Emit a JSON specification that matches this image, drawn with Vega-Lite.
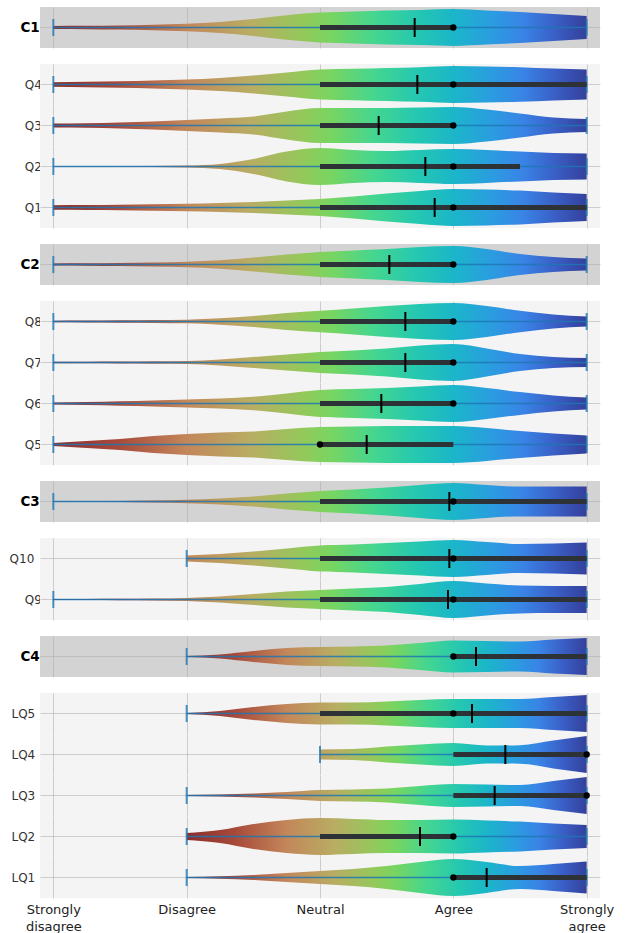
{
"$schema": "https://vega.github.io/schema/vega-lite/v6.json",
"padding": {"left": 9, "top": 7, "right": 0, "bottom": 0},
"background": "white",
"spacing": 16,
"config": {"view": {"stroke": null}, "font": "DejaVu Sans", "axis": {"gridColor": "#b0b0b0", "gridOpacity": 0.6},
 "header": {"labelAngle": 0, "labelAlign": "right", "labelOrient": "left", "labelPadding": -19, "labelFont": "DejaVu Sans", "labelBaseline": "middle"},
 "tick": {"orient": "vertical", "thickness": 2, "opacity": 1},
 "circle": {"color": "#000000", "size": 40, "opacity": 1},
 "area": {"orient": "vertical", "interpolate": "monotone", "opacity": 1}},
"datasets": {"all": [
{"q":"C1","x":1,"d":0.075},{"q":"C1","x":1.25,"d":0.083},{"q":"C1","x":1.5,"d":0.105},{"q":"C1","x":1.75,"d":0.14},{"q":"C1","x":2,"d":0.188},{"q":"C1","x":2.25,"d":0.275},{"q":"C1","x":2.5,"d":0.425},{"q":"C1","x":2.75,"d":0.62},{"q":"C1","x":3,"d":0.75},{"q":"C1","x":3.25,"d":0.8},{"q":"C1","x":3.5,"d":0.85},{"q":"C1","x":3.75,"d":0.88},{"q":"C1","x":4,"d":0.925},{"q":"C1","x":4.25,"d":0.86},{"q":"C1","x":4.5,"d":0.78},{"q":"C1","x":4.75,"d":0.68},{"q":"C1","x":5,"d":0.58},
{"q":"Q4","x":1,"d":0.118},{"q":"Q4","x":1.25,"d":0.138},{"q":"Q4","x":1.5,"d":0.163},{"q":"Q4","x":1.75,"d":0.2},{"q":"Q4","x":2,"d":0.25},{"q":"Q4","x":2.25,"d":0.33},{"q":"Q4","x":2.5,"d":0.45},{"q":"Q4","x":2.75,"d":0.6},{"q":"Q4","x":3,"d":0.75},{"q":"Q4","x":3.25,"d":0.79},{"q":"Q4","x":3.5,"d":0.83},{"q":"Q4","x":3.75,"d":0.87},{"q":"Q4","x":4,"d":0.925},{"q":"Q4","x":4.25,"d":0.9},{"q":"Q4","x":4.5,"d":0.87},{"q":"Q4","x":4.75,"d":0.8},{"q":"Q4","x":5,"d":0.75},
{"q":"Q3","x":1,"d":0.1},{"q":"Q3","x":1.25,"d":0.113},{"q":"Q3","x":1.5,"d":0.15},{"q":"Q3","x":1.75,"d":0.2},{"q":"Q3","x":2,"d":0.275},{"q":"Q3","x":2.25,"d":0.35},{"q":"Q3","x":2.5,"d":0.45},{"q":"Q3","x":2.75,"d":0.7},{"q":"Q3","x":3,"d":0.875},{"q":"Q3","x":3.25,"d":0.875},{"q":"Q3","x":3.5,"d":0.875},{"q":"Q3","x":3.75,"d":0.9},{"q":"Q3","x":4,"d":0.925},{"q":"Q3","x":4.25,"d":0.8},{"q":"Q3","x":4.5,"d":0.6},{"q":"Q3","x":4.75,"d":0.4},{"q":"Q3","x":5,"d":0.325},
{"q":"Q2","x":1,"d":0.013},{"q":"Q2","x":1.25,"d":0.013},{"q":"Q2","x":1.5,"d":0.018},{"q":"Q2","x":1.75,"d":0.025},{"q":"Q2","x":2,"d":0.045},{"q":"Q2","x":2.25,"d":0.125},{"q":"Q2","x":2.5,"d":0.375},{"q":"Q2","x":2.75,"d":0.75},{"q":"Q2","x":3,"d":0.925},{"q":"Q2","x":3.25,"d":0.825},{"q":"Q2","x":3.5,"d":0.775},{"q":"Q2","x":3.75,"d":0.825},{"q":"Q2","x":4,"d":0.875},{"q":"Q2","x":4.25,"d":0.825},{"q":"Q2","x":4.5,"d":0.75},{"q":"Q2","x":4.75,"d":0.675},{"q":"Q2","x":5,"d":0.65},
{"q":"Q1","x":1,"d":0.113},{"q":"Q1","x":1.25,"d":0.125},{"q":"Q1","x":1.5,"d":0.138},{"q":"Q1","x":1.75,"d":0.163},{"q":"Q1","x":2,"d":0.188},{"q":"Q1","x":2.25,"d":0.225},{"q":"Q1","x":2.5,"d":0.275},{"q":"Q1","x":2.75,"d":0.35},{"q":"Q1","x":3,"d":0.425},{"q":"Q1","x":3.25,"d":0.55},{"q":"Q1","x":3.5,"d":0.7},{"q":"Q1","x":3.75,"d":0.825},{"q":"Q1","x":4,"d":0.925},{"q":"Q1","x":4.25,"d":0.9},{"q":"Q1","x":4.5,"d":0.85},{"q":"Q1","x":4.75,"d":0.75},{"q":"Q1","x":5,"d":0.675},
{"q":"C2","x":1,"d":0.05},{"q":"C2","x":1.25,"d":0.058},{"q":"C2","x":1.5,"d":0.075},{"q":"C2","x":1.75,"d":0.1},{"q":"C2","x":2,"d":0.138},{"q":"C2","x":2.25,"d":0.213},{"q":"C2","x":2.5,"d":0.35},{"q":"C2","x":2.75,"d":0.5},{"q":"C2","x":3,"d":0.625},{"q":"C2","x":3.25,"d":0.7},{"q":"C2","x":3.5,"d":0.775},{"q":"C2","x":3.75,"d":0.875},{"q":"C2","x":4,"d":0.925},{"q":"C2","x":4.25,"d":0.775},{"q":"C2","x":4.5,"d":0.525},{"q":"C2","x":4.75,"d":0.375},{"q":"C2","x":5,"d":0.3},
{"q":"Q8","x":1,"d":0.035},{"q":"Q8","x":1.25,"d":0.045},{"q":"Q8","x":1.5,"d":0.058},{"q":"Q8","x":1.75,"d":0.07},{"q":"Q8","x":2,"d":0.093},{"q":"Q8","x":2.25,"d":0.163},{"q":"Q8","x":2.5,"d":0.275},{"q":"Q8","x":2.75,"d":0.425},{"q":"Q8","x":3,"d":0.538},{"q":"Q8","x":3.25,"d":0.65},{"q":"Q8","x":3.5,"d":0.775},{"q":"Q8","x":3.75,"d":0.875},{"q":"Q8","x":4,"d":0.925},{"q":"Q8","x":4.25,"d":0.775},{"q":"Q8","x":4.5,"d":0.538},{"q":"Q8","x":4.75,"d":0.35},{"q":"Q8","x":5,"d":0.25},
{"q":"Q7","x":1,"d":0.038},{"q":"Q7","x":1.25,"d":0.043},{"q":"Q7","x":1.5,"d":0.05},{"q":"Q7","x":1.75,"d":0.063},{"q":"Q7","x":2,"d":0.075},{"q":"Q7","x":2.25,"d":0.15},{"q":"Q7","x":2.5,"d":0.275},{"q":"Q7","x":2.75,"d":0.4},{"q":"Q7","x":3,"d":0.525},{"q":"Q7","x":3.25,"d":0.6},{"q":"Q7","x":3.5,"d":0.7},{"q":"Q7","x":3.75,"d":0.85},{"q":"Q7","x":4,"d":0.925},{"q":"Q7","x":4.25,"d":0.7},{"q":"Q7","x":4.5,"d":0.425},{"q":"Q7","x":4.75,"d":0.275},{"q":"Q7","x":5,"d":0.225},
{"q":"Q6","x":1,"d":0.05},{"q":"Q6","x":1.25,"d":0.075},{"q":"Q6","x":1.5,"d":0.113},{"q":"Q6","x":1.75,"d":0.15},{"q":"Q6","x":2,"d":0.2},{"q":"Q6","x":2.25,"d":0.25},{"q":"Q6","x":2.5,"d":0.338},{"q":"Q6","x":2.75,"d":0.5},{"q":"Q6","x":3,"d":0.675},{"q":"Q6","x":3.25,"d":0.725},{"q":"Q6","x":3.5,"d":0.775},{"q":"Q6","x":3.75,"d":0.85},{"q":"Q6","x":4,"d":0.925},{"q":"Q6","x":4.25,"d":0.775},{"q":"Q6","x":4.5,"d":0.575},{"q":"Q6","x":4.75,"d":0.4},{"q":"Q6","x":5,"d":0.3},
{"q":"Q5","x":1,"d":0.075},{"q":"Q5","x":1.25,"d":0.175},{"q":"Q5","x":1.5,"d":0.275},{"q":"Q5","x":1.75,"d":0.425},{"q":"Q5","x":2,"d":0.525},{"q":"Q5","x":2.25,"d":0.6},{"q":"Q5","x":2.5,"d":0.65},{"q":"Q5","x":2.75,"d":0.775},{"q":"Q5","x":3,"d":0.875},{"q":"Q5","x":3.25,"d":0.9},{"q":"Q5","x":3.5,"d":0.925},{"q":"Q5","x":3.75,"d":0.925},{"q":"Q5","x":4,"d":0.925},{"q":"Q5","x":4.25,"d":0.825},{"q":"Q5","x":4.5,"d":0.675},{"q":"Q5","x":4.75,"d":0.55},{"q":"Q5","x":5,"d":0.45},
{"q":"C3","x":1,"d":0.013},{"q":"C3","x":1.25,"d":0.015},{"q":"C3","x":1.5,"d":0.025},{"q":"C3","x":1.75,"d":0.05},{"q":"C3","x":2,"d":0.088},{"q":"C3","x":2.25,"d":0.15},{"q":"C3","x":2.5,"d":0.25},{"q":"C3","x":2.75,"d":0.4},{"q":"C3","x":3,"d":0.525},{"q":"C3","x":3.25,"d":0.6},{"q":"C3","x":3.5,"d":0.7},{"q":"C3","x":3.75,"d":0.825},{"q":"C3","x":4,"d":0.925},{"q":"C3","x":4.25,"d":0.825},{"q":"C3","x":4.5,"d":0.75},{"q":"C3","x":4.75,"d":0.75},{"q":"C3","x":5,"d":0.75},
{"q":"Q10","x":2,"d":0.15},{"q":"Q10","x":2.25,"d":0.225},{"q":"Q10","x":2.5,"d":0.35},{"q":"Q10","x":2.75,"d":0.5},{"q":"Q10","x":3,"d":0.65},{"q":"Q10","x":3.25,"d":0.7},{"q":"Q10","x":3.5,"d":0.775},{"q":"Q10","x":3.75,"d":0.85},{"q":"Q10","x":4,"d":0.925},{"q":"Q10","x":4.25,"d":0.825},{"q":"Q10","x":4.5,"d":0.725},{"q":"Q10","x":4.75,"d":0.75},{"q":"Q10","x":5,"d":0.8},
{"q":"Q9","x":1,"d":0.025},{"q":"Q9","x":1.25,"d":0.025},{"q":"Q9","x":1.5,"d":0.033},{"q":"Q9","x":1.75,"d":0.045},{"q":"Q9","x":2,"d":0.075},{"q":"Q9","x":2.25,"d":0.15},{"q":"Q9","x":2.5,"d":0.275},{"q":"Q9","x":2.75,"d":0.4},{"q":"Q9","x":3,"d":0.475},{"q":"Q9","x":3.25,"d":0.55},{"q":"Q9","x":3.5,"d":0.625},{"q":"Q9","x":3.75,"d":0.775},{"q":"Q9","x":4,"d":0.925},{"q":"Q9","x":4.25,"d":0.8},{"q":"Q9","x":4.5,"d":0.7},{"q":"Q9","x":4.75,"d":0.675},{"q":"Q9","x":5,"d":0.675},
{"q":"C4","x":2,"d":0.025},{"q":"C4","x":2.25,"d":0.1},{"q":"C4","x":2.5,"d":0.275},{"q":"C4","x":2.75,"d":0.425},{"q":"C4","x":3,"d":0.475},{"q":"C4","x":3.25,"d":0.5},{"q":"C4","x":3.5,"d":0.55},{"q":"C4","x":3.75,"d":0.675},{"q":"C4","x":4,"d":0.8},{"q":"C4","x":4.25,"d":0.775},{"q":"C4","x":4.5,"d":0.75},{"q":"C4","x":4.75,"d":0.85},{"q":"C4","x":5,"d":0.925},
{"q":"LQ5","x":2,"d":0.025},{"q":"LQ5","x":2.25,"d":0.125},{"q":"LQ5","x":2.5,"d":0.325},{"q":"LQ5","x":2.75,"d":0.475},{"q":"LQ5","x":3,"d":0.55},{"q":"LQ5","x":3.25,"d":0.55},{"q":"LQ5","x":3.5,"d":0.6},{"q":"LQ5","x":3.75,"d":0.675},{"q":"LQ5","x":4,"d":0.725},{"q":"LQ5","x":4.25,"d":0.725},{"q":"LQ5","x":4.5,"d":0.725},{"q":"LQ5","x":4.75,"d":0.825},{"q":"LQ5","x":5,"d":0.925},
{"q":"LQ4","x":3,"d":0.25},{"q":"LQ4","x":3.25,"d":0.275},{"q":"LQ4","x":3.5,"d":0.4},{"q":"LQ4","x":3.75,"d":0.5},{"q":"LQ4","x":4,"d":0.575},{"q":"LQ4","x":4.25,"d":0.45},{"q":"LQ4","x":4.5,"d":0.47},{"q":"LQ4","x":4.75,"d":0.7},{"q":"LQ4","x":5,"d":0.925},
{"q":"LQ3","x":2,"d":0.025},{"q":"LQ3","x":2.25,"d":0.05},{"q":"LQ3","x":2.5,"d":0.1},{"q":"LQ3","x":2.75,"d":0.175},{"q":"LQ3","x":3,"d":0.275},{"q":"LQ3","x":3.25,"d":0.3},{"q":"LQ3","x":3.5,"d":0.35},{"q":"LQ3","x":3.75,"d":0.475},{"q":"LQ3","x":4,"d":0.575},{"q":"LQ3","x":4.25,"d":0.55},{"q":"LQ3","x":4.5,"d":0.525},{"q":"LQ3","x":4.75,"d":0.725},{"q":"LQ3","x":5,"d":0.925},
{"q":"LQ2","x":2,"d":0.175},{"q":"LQ2","x":2.25,"d":0.325},{"q":"LQ2","x":2.5,"d":0.625},{"q":"LQ2","x":2.75,"d":0.825},{"q":"LQ2","x":3,"d":0.925},{"q":"LQ2","x":3.25,"d":0.875},{"q":"LQ2","x":3.5,"d":0.825},{"q":"LQ2","x":3.75,"d":0.825},{"q":"LQ2","x":4,"d":0.85},{"q":"LQ2","x":4.25,"d":0.8},{"q":"LQ2","x":4.5,"d":0.75},{"q":"LQ2","x":4.75,"d":0.65},{"q":"LQ2","x":5,"d":0.575},
{"q":"LQ1","x":2,"d":0.025},{"q":"LQ1","x":2.25,"d":0.063},{"q":"LQ1","x":2.5,"d":0.125},{"q":"LQ1","x":2.75,"d":0.225},{"q":"LQ1","x":3,"d":0.325},{"q":"LQ1","x":3.25,"d":0.425},{"q":"LQ1","x":3.5,"d":0.575},{"q":"LQ1","x":3.75,"d":0.775},{"q":"LQ1","x":4,"d":0.925},{"q":"LQ1","x":4.25,"d":0.775},{"q":"LQ1","x":4.5,"d":0.575},{"q":"LQ1","x":4.75,"d":0.675},{"q":"LQ1","x":5,"d":0.8},
{"q":"C1","min":1,"max":5,"q1":3,"q3":4,"med":4,"mean":3.71},
{"q":"Q4","min":1,"max":5,"q1":3,"q3":5,"med":4,"mean":3.73},
{"q":"Q3","min":1,"max":5,"q1":3,"q3":4,"med":4,"mean":3.44},
{"q":"Q2","min":1,"max":5,"q1":3,"q3":4.5,"med":4,"mean":3.79},
{"q":"Q1","min":1,"max":5,"q1":3,"q3":5,"med":4,"mean":3.86},
{"q":"C2","min":1,"max":5,"q1":3,"q3":4,"med":4,"mean":3.52},
{"q":"Q8","min":1,"max":5,"q1":3,"q3":4,"med":4,"mean":3.64},
{"q":"Q7","min":1,"max":5,"q1":3,"q3":4,"med":4,"mean":3.64},
{"q":"Q6","min":1,"max":5,"q1":3,"q3":4,"med":4,"mean":3.46},
{"q":"Q5","min":1,"max":5,"q1":3,"q3":4,"med":3,"mean":3.35},
{"q":"C3","min":1,"max":5,"q1":3,"q3":5,"med":4,"mean":3.97},
{"q":"Q10","min":2,"max":5,"q1":3,"q3":5,"med":4,"mean":3.97},
{"q":"Q9","min":1,"max":5,"q1":3,"q3":5,"med":4,"mean":3.96},
{"q":"C4","min":2,"max":5,"q1":4,"q3":5,"med":4,"mean":4.17},
{"q":"LQ5","min":2,"max":5,"q1":3,"q3":5,"med":4,"mean":4.14},
{"q":"LQ4","min":3,"max":5,"q1":4,"q3":5,"med":5,"mean":4.39},
{"q":"LQ3","min":2,"max":5,"q1":4,"q3":5,"med":5,"mean":4.31},
{"q":"LQ2","min":2,"max":5,"q1":3,"q3":4,"med":4,"mean":3.75},
{"q":"LQ1","min":2,"max":5,"q1":4,"q3":5,"med":4,"mean":4.25}
]},
"data": {"name": "all"},
"vconcat": [
{
 "transform": [{"filter": {"field": "q", "oneOf": ["C1"]}}],
 "facet": {"row": {"field": "q", "type": "nominal", "sort": ["C1"], "title": null, "header": {"labelFontSize": 13.5, "labelFontWeight": "bold", "labelColor": "#000000"}}},
 "spacing": 0,
 "spec": {"width": 560, "height": 41, "view": {"fill": "#d3d3d3", "stroke": null},
  "layer": [
   {"transform": [{"filter": "isValid(datum.d)"}], "mark": {"type": "area", "fill": {"gradient": "linear", "x1": 0, "x2": 1, "y1": 0, "y2": 0, "stops": [{"offset": 0, "color": "#8c2d2b"}, {"offset": 0.12, "color": "#a7493a"}, {"offset": 0.25, "color": "#c3875a"}, {"offset": 0.37, "color": "#b8ad63"}, {"offset": 0.47, "color": "#93c95b"}, {"offset": 0.52, "color": "#78d560"}, {"offset": 0.6, "color": "#45d68f"}, {"offset": 0.68, "color": "#25c8b0"}, {"offset": 0.75, "color": "#1bb6c9"}, {"offset": 0.82, "color": "#2a9de0"}, {"offset": 0.88, "color": "#3984e6"}, {"offset": 0.94, "color": "#3a5fc6"}, {"offset": 1, "color": "#33409b"}]}},
    "encoding": {"x": {"field": "x", "type": "quantitative", "scale": {"domain": [0.9, 5.1], "nice": false, "zero": false}, "axis": {"values": [1, 2, 3, 4, 5], "grid": true, "labels": false, "ticks": false, "domain": false, "title": null}},
     "y": {"field": "d", "type": "quantitative", "stack": "center", "scale": {"domain": [-0.0531, 0.9781], "nice": false, "zero": false}, "axis": {"values": [0.4625], "grid": true, "labels": false, "ticks": false, "domain": false, "title": null, "minExtent": 0, "maxExtent": 0, "labelPadding": 0}}}},
   {"transform": [{"filter": "isValid(datum.min)"}], "mark": {"type": "rule", "color": "#1f77b4", "strokeWidth": 1.5, "opacity": 0.85}, "encoding": {"x": {"field": "min", "type": "quantitative"}, "x2": {"field": "max"}, "y": {"datum": 0.4625, "type": "quantitative"}}},
   {"transform": [{"filter": "isValid(datum.min)"}, {"fold": ["min", "max"], "as": ["k", "v"]}], "mark": {"type": "tick", "size": 17, "color": "#1f77b4", "opacity": 0.8}, "encoding": {"x": {"field": "v", "type": "quantitative"}, "y": {"datum": 0.4625, "type": "quantitative"}}},
   {"transform": [{"filter": "isValid(datum.min)"}], "mark": {"type": "rule", "color": "#2d3236", "strokeWidth": 5}, "encoding": {"x": {"field": "q1", "type": "quantitative"}, "x2": {"field": "q3"}, "y": {"datum": 0.4625, "type": "quantitative"}}},
   {"transform": [{"filter": "isValid(datum.min)"}], "mark": {"type": "tick", "size": 19, "color": "#000000"}, "encoding": {"x": {"field": "mean", "type": "quantitative"}, "y": {"datum": 0.4625, "type": "quantitative"}}},
   {"transform": [{"filter": "isValid(datum.min)"}], "mark": {"type": "circle"}, "encoding": {"x": {"field": "med", "type": "quantitative"}, "y": {"datum": 0.4625, "type": "quantitative"}}}
  ]}
},
{
 "transform": [{"filter": {"field": "q", "oneOf": ["Q4", "Q3", "Q2", "Q1"]}}],
 "facet": {"row": {"field": "q", "type": "nominal", "sort": ["Q4", "Q3", "Q2", "Q1"], "title": null, "header": {"labelFontSize": 12, "labelColor": "#333333"}}},
 "spacing": 0,
 "spec": {"width": 560, "height": 41, "view": {"fill": "#f4f4f4", "stroke": null},
  "layer": [
   {"transform": [{"filter": "isValid(datum.d)"}], "mark": {"type": "area", "fill": {"gradient": "linear", "x1": 0, "x2": 1, "y1": 0, "y2": 0, "stops": [{"offset": 0, "color": "#8c2d2b"}, {"offset": 0.12, "color": "#a7493a"}, {"offset": 0.25, "color": "#c3875a"}, {"offset": 0.37, "color": "#b8ad63"}, {"offset": 0.47, "color": "#93c95b"}, {"offset": 0.52, "color": "#78d560"}, {"offset": 0.6, "color": "#45d68f"}, {"offset": 0.68, "color": "#25c8b0"}, {"offset": 0.75, "color": "#1bb6c9"}, {"offset": 0.82, "color": "#2a9de0"}, {"offset": 0.88, "color": "#3984e6"}, {"offset": 0.94, "color": "#3a5fc6"}, {"offset": 1, "color": "#33409b"}]}},
    "encoding": {"x": {"field": "x", "type": "quantitative", "scale": {"domain": [0.9, 5.1], "nice": false, "zero": false}, "axis": {"values": [1, 2, 3, 4, 5], "grid": true, "labels": false, "ticks": false, "domain": false, "title": null}},
     "y": {"field": "d", "type": "quantitative", "stack": "center", "scale": {"domain": [-0.0531, 0.9781], "nice": false, "zero": false}, "axis": {"values": [0.4625], "grid": true, "labels": false, "ticks": false, "domain": false, "title": null, "minExtent": 0, "maxExtent": 0, "labelPadding": 0}}}},
   {"transform": [{"filter": "isValid(datum.min)"}], "mark": {"type": "rule", "color": "#1f77b4", "strokeWidth": 1.5, "opacity": 0.85}, "encoding": {"x": {"field": "min", "type": "quantitative"}, "x2": {"field": "max"}, "y": {"datum": 0.4625, "type": "quantitative"}}},
   {"transform": [{"filter": "isValid(datum.min)"}, {"fold": ["min", "max"], "as": ["k", "v"]}], "mark": {"type": "tick", "size": 17, "color": "#1f77b4", "opacity": 0.8}, "encoding": {"x": {"field": "v", "type": "quantitative"}, "y": {"datum": 0.4625, "type": "quantitative"}}},
   {"transform": [{"filter": "isValid(datum.min)"}], "mark": {"type": "rule", "color": "#2d3236", "strokeWidth": 5}, "encoding": {"x": {"field": "q1", "type": "quantitative"}, "x2": {"field": "q3"}, "y": {"datum": 0.4625, "type": "quantitative"}}},
   {"transform": [{"filter": "isValid(datum.min)"}], "mark": {"type": "tick", "size": 19, "color": "#000000"}, "encoding": {"x": {"field": "mean", "type": "quantitative"}, "y": {"datum": 0.4625, "type": "quantitative"}}},
   {"transform": [{"filter": "isValid(datum.min)"}], "mark": {"type": "circle"}, "encoding": {"x": {"field": "med", "type": "quantitative"}, "y": {"datum": 0.4625, "type": "quantitative"}}}
  ]}
},
{
 "transform": [{"filter": {"field": "q", "oneOf": ["C2"]}}],
 "facet": {"row": {"field": "q", "type": "nominal", "sort": ["C2"], "title": null, "header": {"labelFontSize": 13.5, "labelFontWeight": "bold", "labelColor": "#000000"}}},
 "spacing": 0,
 "spec": {"width": 560, "height": 41, "view": {"fill": "#d3d3d3", "stroke": null},
  "layer": [
   {"transform": [{"filter": "isValid(datum.d)"}], "mark": {"type": "area", "fill": {"gradient": "linear", "x1": 0, "x2": 1, "y1": 0, "y2": 0, "stops": [{"offset": 0, "color": "#8c2d2b"}, {"offset": 0.12, "color": "#a7493a"}, {"offset": 0.25, "color": "#c3875a"}, {"offset": 0.37, "color": "#b8ad63"}, {"offset": 0.47, "color": "#93c95b"}, {"offset": 0.52, "color": "#78d560"}, {"offset": 0.6, "color": "#45d68f"}, {"offset": 0.68, "color": "#25c8b0"}, {"offset": 0.75, "color": "#1bb6c9"}, {"offset": 0.82, "color": "#2a9de0"}, {"offset": 0.88, "color": "#3984e6"}, {"offset": 0.94, "color": "#3a5fc6"}, {"offset": 1, "color": "#33409b"}]}},
    "encoding": {"x": {"field": "x", "type": "quantitative", "scale": {"domain": [0.9, 5.1], "nice": false, "zero": false}, "axis": {"values": [1, 2, 3, 4, 5], "grid": true, "labels": false, "ticks": false, "domain": false, "title": null}},
     "y": {"field": "d", "type": "quantitative", "stack": "center", "scale": {"domain": [-0.0531, 0.9781], "nice": false, "zero": false}, "axis": {"values": [0.4625], "grid": true, "labels": false, "ticks": false, "domain": false, "title": null, "minExtent": 0, "maxExtent": 0, "labelPadding": 0}}}},
   {"transform": [{"filter": "isValid(datum.min)"}], "mark": {"type": "rule", "color": "#1f77b4", "strokeWidth": 1.5, "opacity": 0.85}, "encoding": {"x": {"field": "min", "type": "quantitative"}, "x2": {"field": "max"}, "y": {"datum": 0.4625, "type": "quantitative"}}},
   {"transform": [{"filter": "isValid(datum.min)"}, {"fold": ["min", "max"], "as": ["k", "v"]}], "mark": {"type": "tick", "size": 17, "color": "#1f77b4", "opacity": 0.8}, "encoding": {"x": {"field": "v", "type": "quantitative"}, "y": {"datum": 0.4625, "type": "quantitative"}}},
   {"transform": [{"filter": "isValid(datum.min)"}], "mark": {"type": "rule", "color": "#2d3236", "strokeWidth": 5}, "encoding": {"x": {"field": "q1", "type": "quantitative"}, "x2": {"field": "q3"}, "y": {"datum": 0.4625, "type": "quantitative"}}},
   {"transform": [{"filter": "isValid(datum.min)"}], "mark": {"type": "tick", "size": 19, "color": "#000000"}, "encoding": {"x": {"field": "mean", "type": "quantitative"}, "y": {"datum": 0.4625, "type": "quantitative"}}},
   {"transform": [{"filter": "isValid(datum.min)"}], "mark": {"type": "circle"}, "encoding": {"x": {"field": "med", "type": "quantitative"}, "y": {"datum": 0.4625, "type": "quantitative"}}}
  ]}
},
{
 "transform": [{"filter": {"field": "q", "oneOf": ["Q8", "Q7", "Q6", "Q5"]}}],
 "facet": {"row": {"field": "q", "type": "nominal", "sort": ["Q8", "Q7", "Q6", "Q5"], "title": null, "header": {"labelFontSize": 12, "labelColor": "#333333"}}},
 "spacing": 0,
 "spec": {"width": 560, "height": 41, "view": {"fill": "#f4f4f4", "stroke": null},
  "layer": [
   {"transform": [{"filter": "isValid(datum.d)"}], "mark": {"type": "area", "fill": {"gradient": "linear", "x1": 0, "x2": 1, "y1": 0, "y2": 0, "stops": [{"offset": 0, "color": "#8c2d2b"}, {"offset": 0.12, "color": "#a7493a"}, {"offset": 0.25, "color": "#c3875a"}, {"offset": 0.37, "color": "#b8ad63"}, {"offset": 0.47, "color": "#93c95b"}, {"offset": 0.52, "color": "#78d560"}, {"offset": 0.6, "color": "#45d68f"}, {"offset": 0.68, "color": "#25c8b0"}, {"offset": 0.75, "color": "#1bb6c9"}, {"offset": 0.82, "color": "#2a9de0"}, {"offset": 0.88, "color": "#3984e6"}, {"offset": 0.94, "color": "#3a5fc6"}, {"offset": 1, "color": "#33409b"}]}},
    "encoding": {"x": {"field": "x", "type": "quantitative", "scale": {"domain": [0.9, 5.1], "nice": false, "zero": false}, "axis": {"values": [1, 2, 3, 4, 5], "grid": true, "labels": false, "ticks": false, "domain": false, "title": null}},
     "y": {"field": "d", "type": "quantitative", "stack": "center", "scale": {"domain": [-0.0531, 0.9781], "nice": false, "zero": false}, "axis": {"values": [0.4625], "grid": true, "labels": false, "ticks": false, "domain": false, "title": null, "minExtent": 0, "maxExtent": 0, "labelPadding": 0}}}},
   {"transform": [{"filter": "isValid(datum.min)"}], "mark": {"type": "rule", "color": "#1f77b4", "strokeWidth": 1.5, "opacity": 0.85}, "encoding": {"x": {"field": "min", "type": "quantitative"}, "x2": {"field": "max"}, "y": {"datum": 0.4625, "type": "quantitative"}}},
   {"transform": [{"filter": "isValid(datum.min)"}, {"fold": ["min", "max"], "as": ["k", "v"]}], "mark": {"type": "tick", "size": 17, "color": "#1f77b4", "opacity": 0.8}, "encoding": {"x": {"field": "v", "type": "quantitative"}, "y": {"datum": 0.4625, "type": "quantitative"}}},
   {"transform": [{"filter": "isValid(datum.min)"}], "mark": {"type": "rule", "color": "#2d3236", "strokeWidth": 5}, "encoding": {"x": {"field": "q1", "type": "quantitative"}, "x2": {"field": "q3"}, "y": {"datum": 0.4625, "type": "quantitative"}}},
   {"transform": [{"filter": "isValid(datum.min)"}], "mark": {"type": "tick", "size": 19, "color": "#000000"}, "encoding": {"x": {"field": "mean", "type": "quantitative"}, "y": {"datum": 0.4625, "type": "quantitative"}}},
   {"transform": [{"filter": "isValid(datum.min)"}], "mark": {"type": "circle"}, "encoding": {"x": {"field": "med", "type": "quantitative"}, "y": {"datum": 0.4625, "type": "quantitative"}}}
  ]}
},
{
 "transform": [{"filter": {"field": "q", "oneOf": ["C3"]}}],
 "facet": {"row": {"field": "q", "type": "nominal", "sort": ["C3"], "title": null, "header": {"labelFontSize": 13.5, "labelFontWeight": "bold", "labelColor": "#000000"}}},
 "spacing": 0,
 "spec": {"width": 560, "height": 41, "view": {"fill": "#d3d3d3", "stroke": null},
  "layer": [
   {"transform": [{"filter": "isValid(datum.d)"}], "mark": {"type": "area", "fill": {"gradient": "linear", "x1": 0, "x2": 1, "y1": 0, "y2": 0, "stops": [{"offset": 0, "color": "#8c2d2b"}, {"offset": 0.12, "color": "#a7493a"}, {"offset": 0.25, "color": "#c3875a"}, {"offset": 0.37, "color": "#b8ad63"}, {"offset": 0.47, "color": "#93c95b"}, {"offset": 0.52, "color": "#78d560"}, {"offset": 0.6, "color": "#45d68f"}, {"offset": 0.68, "color": "#25c8b0"}, {"offset": 0.75, "color": "#1bb6c9"}, {"offset": 0.82, "color": "#2a9de0"}, {"offset": 0.88, "color": "#3984e6"}, {"offset": 0.94, "color": "#3a5fc6"}, {"offset": 1, "color": "#33409b"}]}},
    "encoding": {"x": {"field": "x", "type": "quantitative", "scale": {"domain": [0.9, 5.1], "nice": false, "zero": false}, "axis": {"values": [1, 2, 3, 4, 5], "grid": true, "labels": false, "ticks": false, "domain": false, "title": null}},
     "y": {"field": "d", "type": "quantitative", "stack": "center", "scale": {"domain": [-0.0531, 0.9781], "nice": false, "zero": false}, "axis": {"values": [0.4625], "grid": true, "labels": false, "ticks": false, "domain": false, "title": null, "minExtent": 0, "maxExtent": 0, "labelPadding": 0}}}},
   {"transform": [{"filter": "isValid(datum.min)"}], "mark": {"type": "rule", "color": "#1f77b4", "strokeWidth": 1.5, "opacity": 0.85}, "encoding": {"x": {"field": "min", "type": "quantitative"}, "x2": {"field": "max"}, "y": {"datum": 0.4625, "type": "quantitative"}}},
   {"transform": [{"filter": "isValid(datum.min)"}, {"fold": ["min", "max"], "as": ["k", "v"]}], "mark": {"type": "tick", "size": 17, "color": "#1f77b4", "opacity": 0.8}, "encoding": {"x": {"field": "v", "type": "quantitative"}, "y": {"datum": 0.4625, "type": "quantitative"}}},
   {"transform": [{"filter": "isValid(datum.min)"}], "mark": {"type": "rule", "color": "#2d3236", "strokeWidth": 5}, "encoding": {"x": {"field": "q1", "type": "quantitative"}, "x2": {"field": "q3"}, "y": {"datum": 0.4625, "type": "quantitative"}}},
   {"transform": [{"filter": "isValid(datum.min)"}], "mark": {"type": "tick", "size": 19, "color": "#000000"}, "encoding": {"x": {"field": "mean", "type": "quantitative"}, "y": {"datum": 0.4625, "type": "quantitative"}}},
   {"transform": [{"filter": "isValid(datum.min)"}], "mark": {"type": "circle"}, "encoding": {"x": {"field": "med", "type": "quantitative"}, "y": {"datum": 0.4625, "type": "quantitative"}}}
  ]}
},
{
 "transform": [{"filter": {"field": "q", "oneOf": ["Q10", "Q9"]}}],
 "facet": {"row": {"field": "q", "type": "nominal", "sort": ["Q10", "Q9"], "title": null, "header": {"labelFontSize": 12, "labelColor": "#333333"}}},
 "spacing": 0,
 "spec": {"width": 560, "height": 41, "view": {"fill": "#f4f4f4", "stroke": null},
  "layer": [
   {"transform": [{"filter": "isValid(datum.d) && datum.q != 'Q10'"}], "mark": {"type": "area", "fill": {"gradient": "linear", "x1": 0, "x2": 1, "y1": 0, "y2": 0, "stops": [{"offset": 0, "color": "#8c2d2b"}, {"offset": 0.12, "color": "#a7493a"}, {"offset": 0.25, "color": "#c3875a"}, {"offset": 0.37, "color": "#b8ad63"}, {"offset": 0.47, "color": "#93c95b"}, {"offset": 0.52, "color": "#78d560"}, {"offset": 0.6, "color": "#45d68f"}, {"offset": 0.68, "color": "#25c8b0"}, {"offset": 0.75, "color": "#1bb6c9"}, {"offset": 0.82, "color": "#2a9de0"}, {"offset": 0.88, "color": "#3984e6"}, {"offset": 0.94, "color": "#3a5fc6"}, {"offset": 1, "color": "#33409b"}]}},
    "encoding": {"x": {"field": "x", "type": "quantitative", "scale": {"domain": [0.9, 5.1], "nice": false, "zero": false}, "axis": {"values": [1, 2, 3, 4, 5], "grid": true, "labels": false, "ticks": false, "domain": false, "title": null}},
     "y": {"field": "d", "type": "quantitative", "stack": "center", "scale": {"domain": [-0.0531, 0.9781], "nice": false, "zero": false}, "axis": {"values": [0.4625], "grid": true, "labels": false, "ticks": false, "domain": false, "title": null, "minExtent": 0, "maxExtent": 0, "labelPadding": 0}}}},
   {"transform": [{"filter": "isValid(datum.d) && datum.q == 'Q10'"}], "mark": {"type": "area", "fill": {"gradient": "linear", "x1": -0.3333, "x2": 1, "y1": 0, "y2": 0, "stops": [{"offset": 0, "color": "#8c2d2b"}, {"offset": 0.12, "color": "#a7493a"}, {"offset": 0.25, "color": "#c3875a"}, {"offset": 0.37, "color": "#b8ad63"}, {"offset": 0.47, "color": "#93c95b"}, {"offset": 0.52, "color": "#78d560"}, {"offset": 0.6, "color": "#45d68f"}, {"offset": 0.68, "color": "#25c8b0"}, {"offset": 0.75, "color": "#1bb6c9"}, {"offset": 0.82, "color": "#2a9de0"}, {"offset": 0.88, "color": "#3984e6"}, {"offset": 0.94, "color": "#3a5fc6"}, {"offset": 1, "color": "#33409b"}]}},
    "encoding": {"x": {"field": "x", "type": "quantitative"},
     "y": {"field": "d", "type": "quantitative", "stack": "center"}}},
   {"transform": [{"filter": "isValid(datum.min)"}], "mark": {"type": "rule", "color": "#1f77b4", "strokeWidth": 1.5, "opacity": 0.85}, "encoding": {"x": {"field": "min", "type": "quantitative"}, "x2": {"field": "max"}, "y": {"datum": 0.4625, "type": "quantitative"}}},
   {"transform": [{"filter": "isValid(datum.min)"}, {"fold": ["min", "max"], "as": ["k", "v"]}], "mark": {"type": "tick", "size": 17, "color": "#1f77b4", "opacity": 0.8}, "encoding": {"x": {"field": "v", "type": "quantitative"}, "y": {"datum": 0.4625, "type": "quantitative"}}},
   {"transform": [{"filter": "isValid(datum.min)"}], "mark": {"type": "rule", "color": "#2d3236", "strokeWidth": 5}, "encoding": {"x": {"field": "q1", "type": "quantitative"}, "x2": {"field": "q3"}, "y": {"datum": 0.4625, "type": "quantitative"}}},
   {"transform": [{"filter": "isValid(datum.min)"}], "mark": {"type": "tick", "size": 19, "color": "#000000"}, "encoding": {"x": {"field": "mean", "type": "quantitative"}, "y": {"datum": 0.4625, "type": "quantitative"}}},
   {"transform": [{"filter": "isValid(datum.min)"}], "mark": {"type": "circle"}, "encoding": {"x": {"field": "med", "type": "quantitative"}, "y": {"datum": 0.4625, "type": "quantitative"}}}
  ]}
},
{
 "transform": [{"filter": {"field": "q", "oneOf": ["C4"]}}],
 "facet": {"row": {"field": "q", "type": "nominal", "sort": ["C4"], "title": null, "header": {"labelFontSize": 13.5, "labelFontWeight": "bold", "labelColor": "#000000"}}},
 "spacing": 0,
 "spec": {"width": 560, "height": 41, "view": {"fill": "#d3d3d3", "stroke": null},
  "layer": [
   {"transform": [{"filter": "isValid(datum.d)"}], "mark": {"type": "area", "fill": {"gradient": "linear", "x1": 0, "x2": 1, "y1": 0, "y2": 0, "stops": [{"offset": 0, "color": "#8c2d2b"}, {"offset": 0.12, "color": "#a7493a"}, {"offset": 0.25, "color": "#c3875a"}, {"offset": 0.37, "color": "#b8ad63"}, {"offset": 0.47, "color": "#93c95b"}, {"offset": 0.52, "color": "#78d560"}, {"offset": 0.6, "color": "#45d68f"}, {"offset": 0.68, "color": "#25c8b0"}, {"offset": 0.75, "color": "#1bb6c9"}, {"offset": 0.82, "color": "#2a9de0"}, {"offset": 0.88, "color": "#3984e6"}, {"offset": 0.94, "color": "#3a5fc6"}, {"offset": 1, "color": "#33409b"}]}},
    "encoding": {"x": {"field": "x", "type": "quantitative", "scale": {"domain": [0.9, 5.1], "nice": false, "zero": false}, "axis": {"values": [1, 2, 3, 4, 5], "grid": true, "labels": false, "ticks": false, "domain": false, "title": null}},
     "y": {"field": "d", "type": "quantitative", "stack": "center", "scale": {"domain": [-0.0531, 0.9781], "nice": false, "zero": false}, "axis": {"values": [0.4625], "grid": true, "labels": false, "ticks": false, "domain": false, "title": null, "minExtent": 0, "maxExtent": 0, "labelPadding": 0}}}},
   {"transform": [{"filter": "isValid(datum.min)"}], "mark": {"type": "rule", "color": "#1f77b4", "strokeWidth": 1.5, "opacity": 0.85}, "encoding": {"x": {"field": "min", "type": "quantitative"}, "x2": {"field": "max"}, "y": {"datum": 0.4625, "type": "quantitative"}}},
   {"transform": [{"filter": "isValid(datum.min)"}, {"fold": ["min", "max"], "as": ["k", "v"]}], "mark": {"type": "tick", "size": 17, "color": "#1f77b4", "opacity": 0.8}, "encoding": {"x": {"field": "v", "type": "quantitative"}, "y": {"datum": 0.4625, "type": "quantitative"}}},
   {"transform": [{"filter": "isValid(datum.min)"}], "mark": {"type": "rule", "color": "#2d3236", "strokeWidth": 5}, "encoding": {"x": {"field": "q1", "type": "quantitative"}, "x2": {"field": "q3"}, "y": {"datum": 0.4625, "type": "quantitative"}}},
   {"transform": [{"filter": "isValid(datum.min)"}], "mark": {"type": "tick", "size": 19, "color": "#000000"}, "encoding": {"x": {"field": "mean", "type": "quantitative"}, "y": {"datum": 0.4625, "type": "quantitative"}}},
   {"transform": [{"filter": "isValid(datum.min)"}], "mark": {"type": "circle"}, "encoding": {"x": {"field": "med", "type": "quantitative"}, "y": {"datum": 0.4625, "type": "quantitative"}}}
  ]}
},
{
 "transform": [{"filter": {"field": "q", "oneOf": ["LQ5", "LQ4", "LQ3", "LQ2", "LQ1"]}}],
 "facet": {"row": {"field": "q", "type": "nominal", "sort": ["LQ5", "LQ4", "LQ3", "LQ2", "LQ1"], "title": null, "header": {"labelFontSize": 12, "labelColor": "#333333"}}},
 "spacing": 0,
 "spec": {"width": 560, "height": 41, "view": {"fill": "#f4f4f4", "stroke": null},
  "layer": [
   {"transform": [{"filter": "isValid(datum.d) && datum.q != 'LQ4'"}], "mark": {"type": "area", "fill": {"gradient": "linear", "x1": 0, "x2": 1, "y1": 0, "y2": 0, "stops": [{"offset": 0, "color": "#8c2d2b"}, {"offset": 0.12, "color": "#a7493a"}, {"offset": 0.25, "color": "#c3875a"}, {"offset": 0.37, "color": "#b8ad63"}, {"offset": 0.47, "color": "#93c95b"}, {"offset": 0.52, "color": "#78d560"}, {"offset": 0.6, "color": "#45d68f"}, {"offset": 0.68, "color": "#25c8b0"}, {"offset": 0.75, "color": "#1bb6c9"}, {"offset": 0.82, "color": "#2a9de0"}, {"offset": 0.88, "color": "#3984e6"}, {"offset": 0.94, "color": "#3a5fc6"}, {"offset": 1, "color": "#33409b"}]}},
    "encoding": {"x": {"field": "x", "type": "quantitative", "scale": {"domain": [0.9, 5.1], "nice": false, "zero": false}, "axis": {"values": [1, 2, 3, 4, 5], "grid": true, "ticks": false, "domain": false, "title": null, "labelExpr": "datum.value == 1 ? ['Strongly', 'disagree'] : datum.value == 2 ? 'Disagree' : datum.value == 3 ? 'Neutral' : datum.value == 4 ? 'Agree' : ['Strongly', 'agree']", "labelFontSize": 13, "labelColor": "#222222", "labelPadding": 5, "labelLineHeight": 17, "labelBaseline": "top", "labelFont": "DejaVu Sans"}},
     "y": {"field": "d", "type": "quantitative", "stack": "center", "scale": {"domain": [-0.0531, 0.9781], "nice": false, "zero": false}, "axis": {"values": [0.4625], "grid": true, "labels": false, "ticks": false, "domain": false, "title": null, "minExtent": 0, "maxExtent": 0, "labelPadding": 0}}}},
   {"transform": [{"filter": "isValid(datum.d) && datum.q == 'LQ4'"}], "mark": {"type": "area", "fill": {"gradient": "linear", "x1": -0.5, "x2": 1, "y1": 0, "y2": 0, "stops": [{"offset": 0, "color": "#8c2d2b"}, {"offset": 0.12, "color": "#a7493a"}, {"offset": 0.25, "color": "#c3875a"}, {"offset": 0.37, "color": "#b8ad63"}, {"offset": 0.47, "color": "#93c95b"}, {"offset": 0.52, "color": "#78d560"}, {"offset": 0.6, "color": "#45d68f"}, {"offset": 0.68, "color": "#25c8b0"}, {"offset": 0.75, "color": "#1bb6c9"}, {"offset": 0.82, "color": "#2a9de0"}, {"offset": 0.88, "color": "#3984e6"}, {"offset": 0.94, "color": "#3a5fc6"}, {"offset": 1, "color": "#33409b"}]}},
    "encoding": {"x": {"field": "x", "type": "quantitative"},
     "y": {"field": "d", "type": "quantitative", "stack": "center"}}},
   {"transform": [{"filter": "isValid(datum.min)"}], "mark": {"type": "rule", "color": "#1f77b4", "strokeWidth": 1.5, "opacity": 0.85}, "encoding": {"x": {"field": "min", "type": "quantitative"}, "x2": {"field": "max"}, "y": {"datum": 0.4625, "type": "quantitative"}}},
   {"transform": [{"filter": "isValid(datum.min)"}, {"fold": ["min", "max"], "as": ["k", "v"]}], "mark": {"type": "tick", "size": 17, "color": "#1f77b4", "opacity": 0.8}, "encoding": {"x": {"field": "v", "type": "quantitative"}, "y": {"datum": 0.4625, "type": "quantitative"}}},
   {"transform": [{"filter": "isValid(datum.min)"}], "mark": {"type": "rule", "color": "#2d3236", "strokeWidth": 5}, "encoding": {"x": {"field": "q1", "type": "quantitative"}, "x2": {"field": "q3"}, "y": {"datum": 0.4625, "type": "quantitative"}}},
   {"transform": [{"filter": "isValid(datum.min)"}], "mark": {"type": "tick", "size": 19, "color": "#000000"}, "encoding": {"x": {"field": "mean", "type": "quantitative"}, "y": {"datum": 0.4625, "type": "quantitative"}}},
   {"transform": [{"filter": "isValid(datum.min)"}], "mark": {"type": "circle"}, "encoding": {"x": {"field": "med", "type": "quantitative"}, "y": {"datum": 0.4625, "type": "quantitative"}}}
  ]}
}
]
}
